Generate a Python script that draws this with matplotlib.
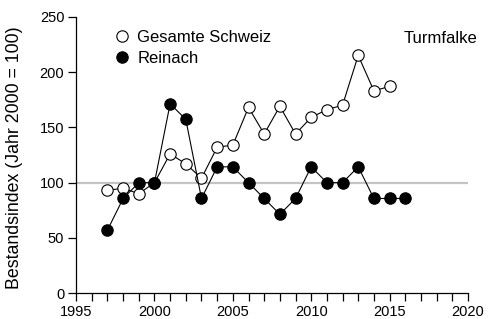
import matplotlib
matplotlib.use("Agg")
import matplotlib.pyplot as plt
from matplotlib.ticker import MultipleLocator

plt.rcParams['font.family'] = ['Liberation Sans', 'DejaVu Sans']

# data (index, year 2000 = 100)
years_ch = [1997, 1998, 1999, 2000, 2001, 2002, 2003, 2004, 2005, 2006,
            2007, 2008, 2009, 2010, 2011, 2012, 2013, 2014, 2015]
index_ch = [93, 95, 90, 100, 126, 117, 104, 132, 134, 168,
            144, 169, 144, 159, 166, 170, 215, 183, 187]

years_re = [1997, 1998, 1999, 2000, 2001, 2002, 2003, 2004, 2005, 2006,
            2007, 2008, 2009, 2010, 2011, 2012, 2013, 2014, 2015, 2016]
index_re = [57.1, 85.7, 100, 100, 171.4, 157.1, 85.7, 114.3, 114.3, 100,
            85.7, 71.4, 85.7, 114.3, 100, 100, 114.3, 85.7, 85.7, 85.7]

labels = ['Gesamte Schweiz', 'Reinach']
species = 'Turmfalke'

fig = plt.figure(figsize=(4.91, 3.19), dpi=100)
ax = fig.add_axes([0.155, 0.0806, 0.798, 0.867])

# reference line at 100
ax.plot([1995, 2020], [100, 100], color='#c4c4c4', lw=1.6, zorder=1)

ax.plot(years_ch, index_ch, '-o', color='black', lw=0.8, ms=8.2,
        mfc='white', mec='black', mew=0.8, zorder=2, label=labels[0])
ax.plot(years_re, index_re, '-o', color='black', lw=0.8, ms=8.2,
        mfc='black', mec='black', mew=0.8, zorder=3, label=labels[1])

ax.set_xlim(1995, 2020)
ax.set_ylim(0, 250)
ax.xaxis.set_major_locator(MultipleLocator(5))
ax.xaxis.set_minor_locator(MultipleLocator(1))
ax.yaxis.set_major_locator(MultipleLocator(50))

for s in ['top', 'right']:
    ax.spines[s].set_visible(False)
for s in ['left', 'bottom']:
    ax.spines[s].set_linewidth(0.9)

ax.tick_params(which='both', direction='out', length=6, width=0.9,
               labelsize=10.5, pad=2.5)

ax.set_ylabel('Bestandsindex (Jahr 2000 = 100)', fontsize=12.8)
ax.yaxis.set_label_coords(-0.135, 0.49)

ax.legend(loc='upper left', bbox_to_anchor=(0.088, 0.995), frameon=False,
          fontsize=12, handlelength=0, handletextpad=0.9,
          labelspacing=0.38, borderaxespad=0.3)
ax.text(1.023, 0.923, species, transform=ax.transAxes, ha='right',
        va='center', fontsize=12)

fig.savefig('out.png', dpi=100)
